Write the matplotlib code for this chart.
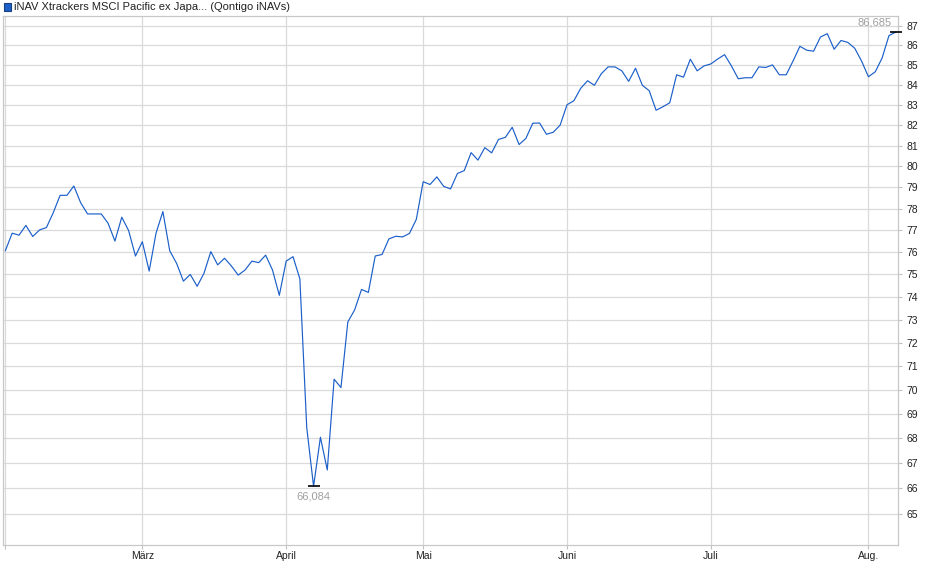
import numpy as np
import pandas as pd
import matplotlib
matplotlib.use("Agg")
import matplotlib.pyplot as plt
from matplotlib.patches import Rectangle
from matplotlib.ticker import NullLocator, NullFormatter, FixedLocator

# -----------------------------
# DATA
# -----------------------------
title = "iNAV Xtrackers MSCI Pacific ex Japa... (Qontigo iNAVs)"
holidays = ["2025-04-18", "2025-04-21", "2025-05-01"]
dates = pd.bdate_range("2025-02-03", "2025-08-07", freq="C", holidays=holidays)

values = [
    76.07, 76.87, 76.78, 77.23, 76.72, 77.02, 77.13, 77.82, 78.63, 78.63,
    79.07, 78.28, 77.76, 77.76, 77.76, 77.33, 76.51, 77.61, 76.99, 75.83,
    76.48, 75.15, 76.87, 77.87, 76.07, 75.50, 74.70, 75.00, 74.47, 75.05,
    76.03, 75.43, 75.73, 75.38, 74.97, 75.20, 75.60, 75.53, 75.87, 75.20,
    74.07, 75.60, 75.80, 74.80, 68.45, 66.084, 68.05, 66.73, 70.45, 70.10,
    72.90, 73.43, 74.33, 74.20, 75.83, 75.90, 76.61, 76.73, 76.70, 76.86,
    77.51, 79.27, 79.14, 79.50, 79.05, 78.93, 79.66, 79.80, 80.66, 80.30,
    80.90, 80.65, 81.30, 81.40, 81.89, 81.05, 81.35, 82.09, 82.10, 81.55,
    81.65, 82.00, 83.00, 83.20, 83.82, 84.20, 83.97, 84.55, 84.90, 84.90,
    84.70, 84.17, 84.83, 83.97, 83.70, 82.73, 82.90, 83.10, 84.50, 84.38,
    85.29, 84.70, 84.95, 85.05, 85.30, 85.52, 84.95, 84.30, 84.35, 84.35,
    84.90, 84.87, 85.00, 84.50, 84.50, 85.20, 85.95, 85.75, 85.70, 86.43,
    86.60, 85.80, 86.25, 86.15, 85.85, 85.20, 84.40, 84.65, 85.35, 86.50,
    86.685,
]
month_numbers = [3, 4, 5, 6, 7, 8]
month_labels = ["März", "April", "Mai", "Juni", "Juli", "Aug."]
y_ticks = list(range(65, 88))

# -----------------------------
# PLOT
# -----------------------------
plt.rcParams["font.family"] = ["Liberation Sans", "DejaVu Sans"]
line_color = "#1b5fc9"
grid_color = "#dadada"

x = np.arange(len(values))
month_pos = [int(np.argmax(dates.month == m)) for m in month_numbers]

fig = plt.figure(figsize=(9.4, 5.79), dpi=100)
ax = fig.add_axes([3 / 940, 34 / 579, 895 / 940, 529 / 579])

ax.set_yscale("log")
ax.set_ylim(63.807, 87.52)
ax.set_xlim(-0.34, 130.32)

ax.plot(x, values, color=line_color, lw=0.85, zorder=3)

# min / last markers
i_min = int(np.argmin(values))
i_last = len(values) - 1
ax.plot([i_min, i_last], [values[i_min], values[i_last]], ls="none",
        marker="_", markersize=9, mew=1.2, color="black", zorder=4, clip_on=False)
ax.annotate(f"{values[i_min]:.3f}".replace(".", ","), (i_min, values[i_min]),
            xytext=(0, -4), textcoords="offset points", ha="center", va="top",
            fontsize=8, color="#a0a0a0")
ax.annotate(f"{values[i_last]:.3f}".replace(".", ","), (i_last, values[i_last]),
            xytext=(-3, 3), textcoords="offset points", ha="right", va="bottom",
            fontsize=8, color="#a0a0a0")

# axes styling
ax.yaxis.tick_right()
ax.yaxis.set_major_locator(FixedLocator(y_ticks))
ax.yaxis.set_minor_locator(NullLocator())
ax.yaxis.set_minor_formatter(NullFormatter())
ax.set_yticklabels([str(v) for v in y_ticks])
ax.set_xticks([0] + month_pos)
ax.set_xticklabels([""] + month_labels)
ax.tick_params(axis="both", labelsize=7.5, colors="#c0c0c0", labelcolor="#222222",
               length=3, width=0.8)
ax.tick_params(axis="x", pad=1.5)
ax.tick_params(axis="y", pad=3)

ax.grid(True, color=grid_color, lw=0.9, zorder=0)
for s in ax.spines.values():
    s.set_color("#c8c8c8")
    s.set_linewidth(0.9)

# title with legend square
fig.patches.append(Rectangle((4 / 940, (579 - 11) / 579), 7 / 940, 8 / 579,
                             transform=fig.transFigure, facecolor=line_color,
                             edgecolor="#1a3f80", lw=0.8))
fig.text(14 / 940, (579 - 6.5) / 579, title, fontsize=8, color="#222222",
         ha="left", va="center")

fig.savefig("out.png", dpi=100)
